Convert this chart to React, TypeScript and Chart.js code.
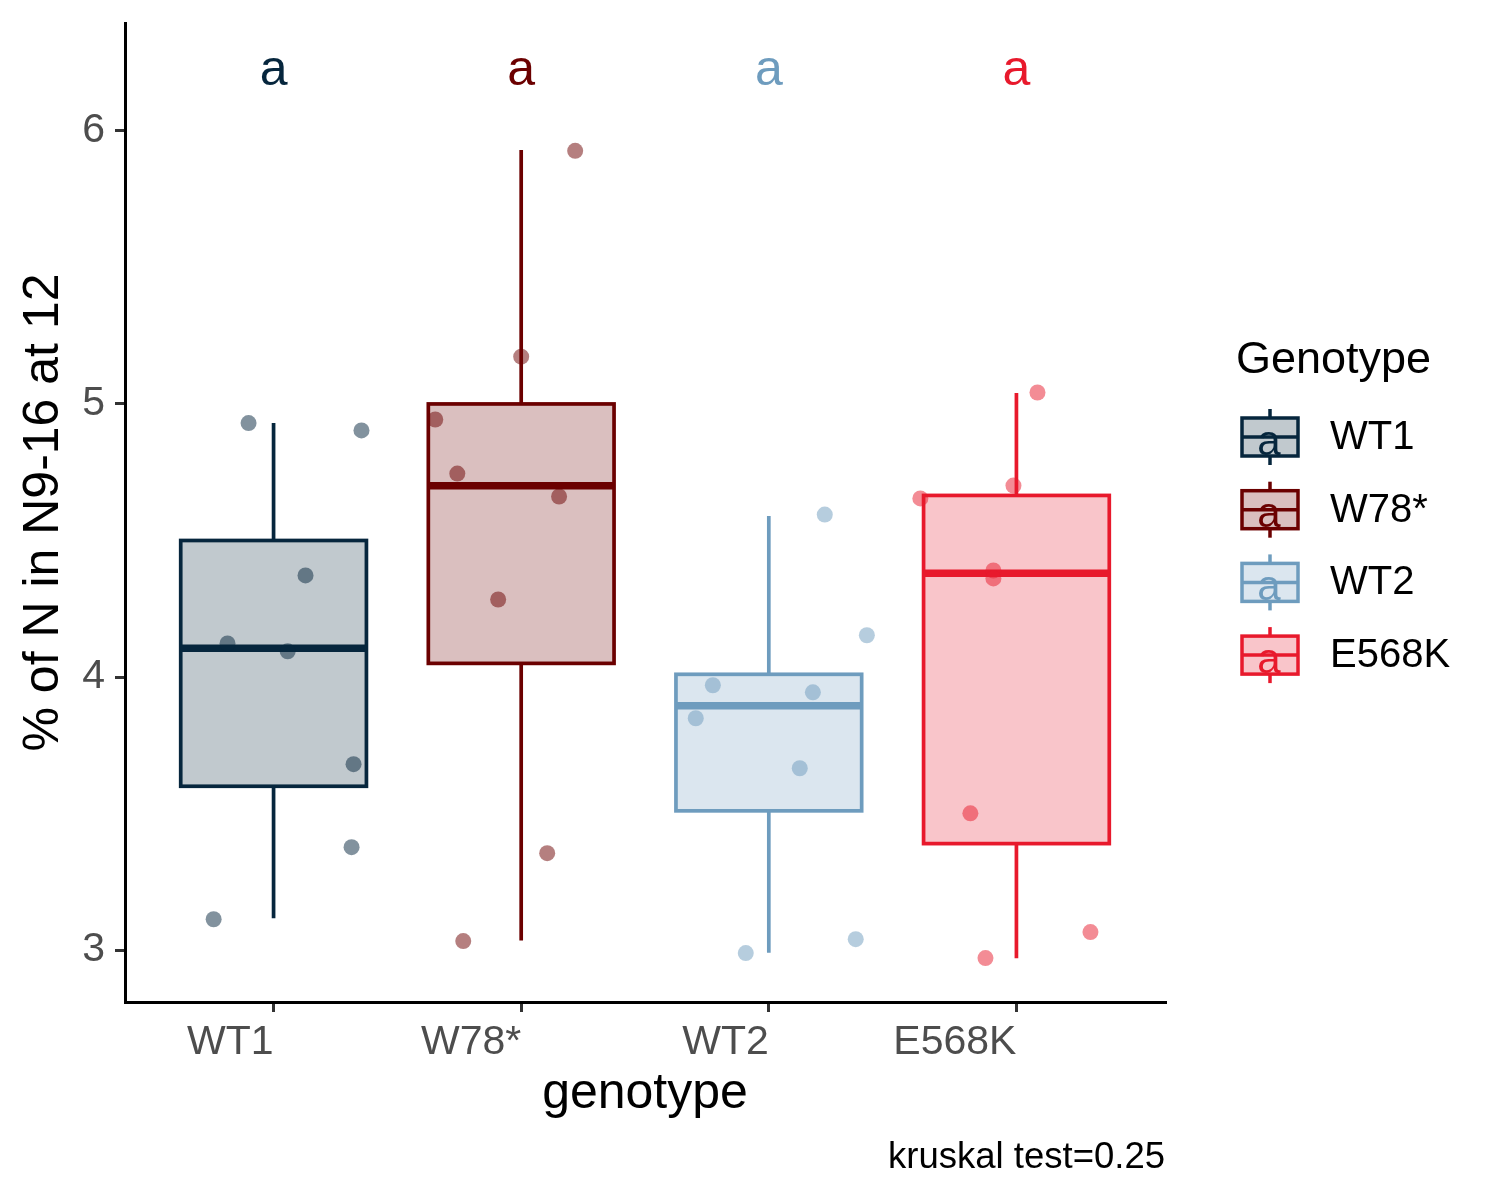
import React, { useEffect, useRef } from 'react';
import { Chart, registerables } from 'chart.js';
Chart.register(...registerables);

const categories = ['WT1', 'W78*', 'WT2', 'E568K'];
const colors = ['#06263D', '#6B0000', '#6E9CBE', '#E8192C'];
const q1 = [3.60, 4.05, 3.51, 3.39];
const medians = [4.105, 4.70, 3.895, 4.38];
const q3 = [4.50, 5.00, 4.01, 4.665];
const whiskerLow = [3.117, 3.035, 2.99, 2.97];
const whiskerHigh = [4.93, 5.93, 4.59, 5.04];
const sigLetters = ['a', 'a', 'a', 'a'];
const letterY = 6.22;
const yTickValues = [3, 4, 5, 6];
const xTickValues = [1, 2, 3, 4];
const caption = 'kruskal test=0.25';

const wt1X = [0.899, 1.355, 1.129, 0.814, 1.057, 1.323, 1.315, 0.758];
const wt1Y = [4.93, 4.903, 4.372, 4.123, 4.094, 3.681, 3.377, 3.113];
const w78X = [2.218, 2.0, 1.653, 1.742, 2.153, 1.907, 2.105, 1.766];
const w78Y = [5.927, 5.173, 4.943, 4.745, 4.661, 4.284, 3.355, 3.033];
const wt2X = [3.226, 3.396, 2.774, 3.178, 2.705, 3.125, 3.351, 2.907];
const wt2Y = [4.595, 4.153, 3.970, 3.944, 3.849, 3.666, 3.040, 2.989];
const e568X = [4.085, 3.612, 3.988, 3.907, 3.907, 3.814, 4.299, 3.875];
const e568Y = [5.042, 4.654, 4.701, 4.390, 4.361, 3.501, 3.066, 2.971];

const pointsX = [wt1X, w78X, wt2X, e568X];
const pointsY = [wt1Y, w78Y, wt2Y, e568Y];

const FONT = '"Liberation Sans", Arial, Helvetica, sans-serif';
const BOX_HALF = 0.375;

function rgba(hex: string, a: number) {
  const n = parseInt(hex.slice(1), 16);
  return `rgba(${(n >> 16) & 255},${(n >> 8) & 255},${n & 255},${a})`;
}

const boxPlugin = {
  id: 'boxes',
  beforeDatasetsDraw(chart: any) {
    const ctx = chart.ctx;
    const xs = chart.scales.x;
    const ys = chart.scales.y;
    ctx.save();
    categories.forEach((_, i) => {
      const c = i + 1;
      const xl = xs.getPixelForValue(c - BOX_HALF);
      const xr = xs.getPixelForValue(c + BOX_HALF);
      const xc = xs.getPixelForValue(c);
      const yq1 = ys.getPixelForValue(q1[i]);
      const yq3 = ys.getPixelForValue(q3[i]);
      const ym = ys.getPixelForValue(medians[i]);
      const ylo = ys.getPixelForValue(whiskerLow[i]);
      const yhi = ys.getPixelForValue(whiskerHigh[i]);
      ctx.strokeStyle = colors[i];
      ctx.lineWidth = 3.7;
      ctx.lineCap = 'butt';
      ctx.beginPath();
      ctx.moveTo(xc, yhi);
      ctx.lineTo(xc, yq3);
      ctx.moveTo(xc, yq1);
      ctx.lineTo(xc, ylo);
      ctx.stroke();
      ctx.fillStyle = rgba(colors[i], 0.25);
      ctx.fillRect(xl, yq3, xr - xl, yq1 - yq3);
      ctx.strokeRect(xl, yq3, xr - xl, yq1 - yq3);
      ctx.lineWidth = 7.5;
      ctx.beginPath();
      ctx.moveTo(xl, ym);
      ctx.lineTo(xr, ym);
      ctx.stroke();
    });
    ctx.restore();
  },
  afterDraw(chart: any) {
    const ctx = chart.ctx;
    const xs = chart.scales.x;
    const ys = chart.scales.y;
    const area = chart.chartArea;
    ctx.save();
    // significance letters
    ctx.font = `50px ${FONT}`;
    ctx.textAlign = 'center';
    ctx.textBaseline = 'middle';
    sigLetters.forEach((l, i) => {
      ctx.fillStyle = colors[i];
      ctx.fillText(l, xs.getPixelForValue(i + 1), ys.getPixelForValue(letterY));
    });
    // axis titles
    ctx.fillStyle = '#000';
    ctx.font = `50px ${FONT}`;
    ctx.textAlign = 'center';
    ctx.textBaseline = 'middle';
    ctx.fillText('genotype', (area.left + area.right) / 2, 1094);
    ctx.save();
    ctx.translate(44, (area.top + area.bottom) / 2);
    ctx.rotate(-Math.PI / 2);
    ctx.fillText('% of N in N9-16 at 12', 0, 0);
    ctx.restore();
    // caption
    ctx.font = `36.5px ${FONT}`;
    ctx.textAlign = 'right';
    ctx.fillText(caption, area.right, 1158);
    // legend
    ctx.font = `45px ${FONT}`;
    ctx.textAlign = 'left';
    ctx.fillText('Genotype', 1236, 361);
    categories.forEach((cat, i) => {
      const cy = 437 + i * 72.7;
      const kl = 1242, kr = 1298, kc = 1270;
      ctx.strokeStyle = colors[i];
      ctx.lineWidth = 3.5;
      ctx.beginPath();
      ctx.moveTo(kc, cy - 28);
      ctx.lineTo(kc, cy + 28);
      ctx.stroke();
      ctx.fillStyle = '#fff';
      ctx.fillRect(kl, cy - 19, kr - kl, 38);
      ctx.fillStyle = rgba(colors[i], 0.25);
      ctx.fillRect(kl, cy - 19, kr - kl, 38);
      ctx.strokeRect(kl, cy - 19, kr - kl, 38);
      ctx.beginPath();
      ctx.moveTo(kl, cy);
      ctx.lineTo(kr, cy);
      ctx.stroke();
      ctx.fillStyle = colors[i];
      ctx.font = `42px ${FONT}`;
      ctx.textAlign = 'center';
      ctx.fillText('a', kc - 1, cy + 6);
      ctx.fillStyle = '#000';
      ctx.font = `40px ${FONT}`;
      ctx.textAlign = 'left';
      ctx.fillText(cat, 1330, cy + 1);
    });
    ctx.restore();
  },
};

export default function App() {
  const ref = useRef<HTMLCanvasElement>(null);
  useEffect(() => {
    if (!ref.current) return;
    const datasets = categories.map((cat, i) => ({
      label: cat,
      data: pointsX[i].map((x, j) => ({ x, y: pointsY[i][j] })),
      backgroundColor: rgba(colors[i], 0.5),
      borderWidth: 0,
      pointRadius: 8,
      pointHoverRadius: 8,
    }));
    const chart = new Chart(ref.current, {
      type: 'scatter',
      data: { datasets },
      plugins: [boxPlugin],
      options: {
        animation: false,
        responsive: false,
        devicePixelRatio: 1,
        layout: { padding: { top: 23, right: 335, left: 0, bottom: 0 } },
        plugins: { legend: { display: false }, tooltip: { enabled: false } },
        scales: {
          x: {
            type: 'linear',
            min: 0.4,
            max: 4.6,
            afterBuildTicks: (s: any) => {
              s.ticks = xTickValues.map((v) => ({ value: v }));
            },
            afterFit: (s: any) => {
              s.height = 198;
              s.paddingLeft = 0;
              s.paddingRight = 0;
            },
            ticks: {
              callback: (v: any) => categories[Math.round(v) - 1],
              align: 'end',
              font: { size: 41, family: FONT },
              color: '#4D4D4D',
              padding: 6,
              maxRotation: 0,
              autoSkip: false,
            },
            grid: { display: true, drawOnChartArea: false, drawTicks: true, tickLength: 10, color: '#333', lineWidth: 3 },
            border: { display: true, color: '#000', width: 3 },
          },
          y: {
            type: 'linear',
            min: 2.81,
            max: 6.395,
            afterBuildTicks: (s: any) => {
              s.ticks = yTickValues.map((v) => ({ value: v }));
            },
            afterFit: (s: any) => {
              s.width = 125;
              s.paddingTop = 0;
              s.paddingBottom = 0;
            },
            ticks: {
              font: { size: 41, family: FONT },
              color: '#4D4D4D',
              padding: 10,
            },
            grid: { display: true, drawOnChartArea: false, drawTicks: true, tickLength: 10, color: '#333', lineWidth: 3 },
            border: { display: true, color: '#000', width: 3 },
          },
        },
      } as any,
    });
    return () => chart.destroy();
  }, []);
  return (
    <div style={{ position: 'absolute', left: 0, top: 0, width: 1500, height: 1200, background: '#fff' }}>
      <canvas ref={ref} width={1500} height={1200} style={{ width: 1500, height: 1200 }} />
    </div>
  );
}
